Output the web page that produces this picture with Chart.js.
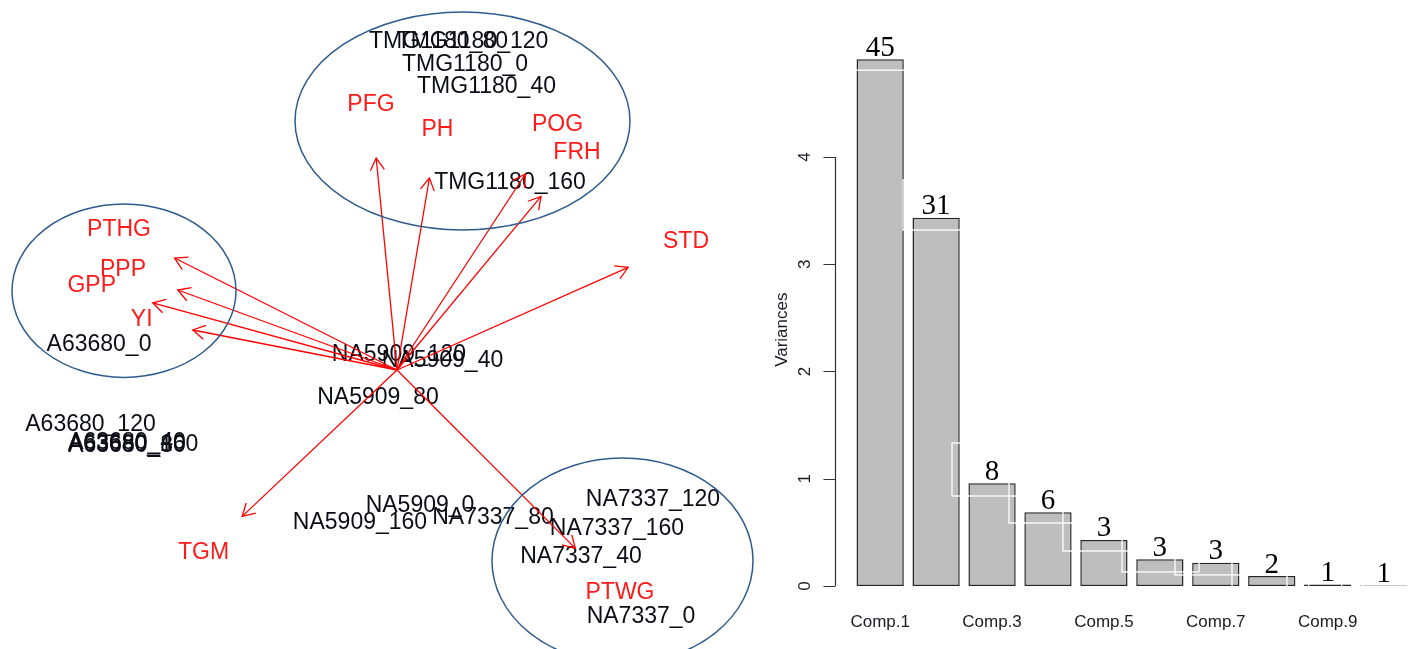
<!DOCTYPE html>
<html lang="en">
  <head>
    <meta charset="UTF-8" />
    <title>PCA biplot and scree plot</title>
    <script src="https://cdn.jsdelivr.net/npm/chart.js"></script>
    <style>
      html,
      body {
        margin: 0;
        padding: 0;
        width: 1415px;
        height: 649px;
        overflow: hidden;
        background: #ffffff;
      }
      .panel {
        position: absolute;
        top: 0;
        height: 649px;
      }
      #leftPanel {
        left: 0;
        width: 760px;
      }
      #rightPanel {
        left: 760px;
        width: 655px;
      }
    </style>
  </head>
  <body>
    <div class="panel" id="leftPanel"><canvas id="biplot"></canvas></div>
    <div class="panel" id="rightPanel"><canvas id="scree"></canvas></div>
    <script>
      // --- biplot: observation scores ---
      const scoreNames = [
        "TMG1180_80", "TMG1180_120", "TMG1180_0", "TMG1180_40", "TMG1180_160",
        "A63680_0", "A63680_120", "A63680_40", "A63680_80", "A63680_160",
        "NA5909_0", "NA5909_40", "NA5909_80", "NA5909_120", "NA5909_160",
        "NA7337_0", "NA7337_40", "NA7337_80", "NA7337_120", "NA7337_160",
      ];
      const scoreX = [
        0.415, 0.755, 0.68, 0.895, 1.13,
        -2.98, -3.065, -2.7, -2.7, -2.64,
        0.23, 0.455, -0.19, 0.02, -0.37,
        2.44, 1.84, 0.96, 2.56, 2.2,
      ];
      const scoreY = [
        3.283, 3.283, 3.05, 2.83, 1.87,
        0.25, -0.55, -0.73, -0.76, -0.75,
        -1.357, 0.093, -0.28, 0.15, -1.53,
        -2.47, -1.87, -1.48, -1.3, -1.59,
      ];

      // --- biplot: variable loadings ---
      const varNames = ["PFG", "PH", "POG", "FRH", "STD", "PTHG", "PPP", "GPP", "YI", "TGM", "PTWG"];
      const varX = [-0.26, 0.405, 1.605, 1.8, 2.89, -2.78, -2.74, -3.053, -2.553, -1.935, 2.23];
      const varY = [2.65, 2.4, 2.45, 2.17, 1.283, 1.4, 1.0, 0.84, 0.5, -1.83, -2.23];

      // group ellipses (centre and radii in biplot units)
      const groupX = [0.655, -2.73, 2.255];
      const groupY = [2.49, 0.793, -1.907];
      const groupRx = [1.675, 1.12, 1.305];
      const groupRy = [1.09, 0.867, 1.027];

      // --- scree plot ---
      const compLabels = ["Comp.1", "Comp.2", "Comp.3", "Comp.4", "Comp.5", "Comp.6", "Comp.7", "Comp.8", "Comp.9", "Comp.10"];
      const variances = [4.911, 3.434, 0.958, 0.687, 0.429, 0.249, 0.217, 0.093, 0.014, 0.004];
      const pctLabels = ["45", "31", "8", "6", "3", "3", "3", "2", "1", "1"];
      const yTicks = [0, 1, 2, 3, 4];

      // white outline boxes laid over the bars (category index / variance units)
      const overlayLeft = [-0.611, 0.408, 1.284, 2.303, 3.268, 4.323, 5.27, 6.289, 7.66, 8.631];
      const overlayRight = [0.497, 1.516, 2.499, 3.518, 4.483, 5.7, 6.504, 7.272, 8.25, 9.74];
      const overlayLow = [4.81, 3.319, 0.839, 0.587, 0.326, 0.131, 0.103, -0.05, -0.05, -0.05];
      const overlayHigh = [5.3, 3.786, 1.333, 1.05, 0.75, 0.45, 0.3, 0.25, 0.08, 0.08];

      const SANS = '"Liberation Sans", Arial, sans-serif';
      const SERIF = '"Liberation Serif", "Times New Roman", serif';

      const biplotText = {
        id: "biplotText",
        beforeDatasetsDraw(chart) {
          const ctx = chart.ctx;
          ctx.save();
          ctx.font = "23px " + SANS;
          ctx.textAlign = "center";
          ctx.textBaseline = "middle";
          ctx.fillStyle = "#0c0c16";
          chart.getDatasetMeta(0).data.forEach((p, i) => ctx.fillText(scoreNames[i], p.x, p.y));
          ctx.restore();
        },
        afterDatasetsDraw(chart) {
          const ctx = chart.ctx;
          const { x, y } = chart.scales;
          ctx.save();
          // arrow heads
          ctx.strokeStyle = "#ff0000";
          ctx.lineWidth = 1.3;
          for (let i = 0; i < varNames.length; i++) {
            const pts = chart.getDatasetMeta(i + 1).data;
            const a = Math.atan2(pts[1].y - pts[0].y, pts[1].x - pts[0].x);
            ctx.beginPath();
            ctx.moveTo(pts[1].x - 14 * Math.cos(a - Math.PI / 6), pts[1].y - 14 * Math.sin(a - Math.PI / 6));
            ctx.lineTo(pts[1].x, pts[1].y);
            ctx.lineTo(pts[1].x - 14 * Math.cos(a + Math.PI / 6), pts[1].y - 14 * Math.sin(a + Math.PI / 6));
            ctx.stroke();
          }
          // variable names
          ctx.font = "23px " + SANS;
          ctx.textAlign = "center";
          ctx.textBaseline = "middle";
          ctx.fillStyle = "#ff1a1a";
          chart.getDatasetMeta(varNames.length + 1).data.forEach((p, i) => ctx.fillText(varNames[i], p.x, p.y));
          // ellipses
          ctx.strokeStyle = "#2f5b8c";
          ctx.lineWidth = 1.5;
          for (let i = 0; i < groupX.length; i++) {
            const cx = x.getPixelForValue(groupX[i]);
            const cy = y.getPixelForValue(groupY[i]);
            const rx = Math.abs(x.getPixelForValue(groupX[i] + groupRx[i]) - cx);
            const ry = Math.abs(y.getPixelForValue(groupY[i] + groupRy[i]) - cy);
            ctx.beginPath();
            ctx.ellipse(cx, cy, rx, ry, 0, 0, Math.PI * 2);
            ctx.stroke();
          }
          ctx.restore();
        },
      };

      const screeExtras = {
        id: "screeExtras",
        afterDatasetsDraw(chart) {
          const { ctx, chartArea } = chart;
          const { x, y } = chart.scales;
          ctx.save();
          // white boxes
          ctx.strokeStyle = "#ffffff";
          ctx.lineWidth = 1.3;
          for (let i = 0; i < overlayLeft.length; i++) {
            const l = x.getPixelForValue(overlayLeft[i]);
            const r = x.getPixelForValue(overlayRight[i]);
            const t = y.getPixelForValue(overlayHigh[i]);
            const b = y.getPixelForValue(overlayLow[i]);
            ctx.strokeRect(l, t, r - l, b - t);
          }
          // percentages on top of bars
          ctx.fillStyle = "#000000";
          ctx.font = "29px " + SERIF;
          ctx.textAlign = "center";
          ctx.textBaseline = "alphabetic";
          chart.getDatasetMeta(0).data.forEach((bar, i) => ctx.fillText(pctLabels[i], bar.x, bar.y - 3.5));
          // R style y axis
          const ax = Math.round(chartArea.left - 17) + 0.5;
          ctx.strokeStyle = "#333333";
          ctx.lineWidth = 1.2;
          ctx.beginPath();
          ctx.moveTo(ax, y.getPixelForValue(yTicks[0]));
          ctx.lineTo(ax, y.getPixelForValue(yTicks[yTicks.length - 1]));
          yTicks.forEach((v) => {
            const py = Math.round(y.getPixelForValue(v)) + 0.5;
            ctx.moveTo(ax, py);
            ctx.lineTo(ax - 12, py);
          });
          ctx.stroke();
          ctx.fillStyle = "#1a1a22";
          ctx.font = "17px " + SANS;
          ctx.textBaseline = "middle";
          yTicks.forEach((v) => {
            ctx.save();
            ctx.translate(ax - 30.5, y.getPixelForValue(v));
            ctx.rotate(-Math.PI / 2);
            ctx.fillText(String(v), 0, 0);
            ctx.restore();
          });
          ctx.translate(ax - 53.5, (chartArea.top + chartArea.bottom) / 2 + 7);
          ctx.rotate(-Math.PI / 2);
          ctx.fillText("Variances", 0, 0);
          ctx.restore();
        },
      };

      document.addEventListener("DOMContentLoaded", function () {
        try {
          Chart.defaults.font.family = SANS;
          Chart.defaults.animation = false;

          new Chart(document.getElementById("biplot"), {
            type: "scatter",
            data: {
              datasets: [
                {
                  label: "scores",
                  data: scoreX.map((v, i) => ({ x: v, y: scoreY[i] })),
                  pointRadius: 0,
                },
                ...varNames.map((name, i) => ({
                  label: name,
                  // R biplot draws the arrows to 0.8 of the label position
                  data: [
                    { x: 0, y: 0 },
                    { x: 0.8 * varX[i], y: 0.8 * varY[i] },
                  ],
                  showLine: true,
                  borderColor: "#ff0000",
                  borderWidth: 1.3,
                  pointRadius: 0,
                })),
                {
                  label: "loadings",
                  data: varX.map((v, i) => ({ x: v, y: varY[i] })),
                  pointRadius: 0,
                },
              ],
            },
            options: {
              responsive: true,
              maintainAspectRatio: false,
              events: [],
              layout: { padding: 0 },
              plugins: { legend: { display: false }, tooltip: { enabled: false } },
              scales: {
                x: { type: "linear", display: false, min: -3.97, max: 3.63 },
                y: { type: "linear", display: false, min: -2.79, max: 3.7 },
              },
            },
            plugins: [biplotText],
          });

          new Chart(document.getElementById("scree"), {
            type: "bar",
            data: {
              labels: compLabels,
              datasets: [
                {
                  label: "Variances",
                  data: variances,
                  backgroundColor: "#bebebe",
                  borderColor: "#262626",
                  borderWidth: 1.5,
                  borderSkipped: false,
                  barPercentage: 0.845,
                  categoryPercentage: 1,
                },
              ],
            },
            options: {
              responsive: true,
              maintainAspectRatio: false,
              events: [],
              layout: { padding: { left: 92.2, right: 3.4, top: 38.4, bottom: 0 } },
              plugins: { legend: { display: false }, tooltip: { enabled: false } },
              scales: {
                x: {
                  grid: { display: false, drawTicks: false },
                  border: { display: false },
                  ticks: {
                    autoSkip: false,
                    maxRotation: 0,
                    padding: 5,
                    color: "#1a1a22",
                    font: { size: 17 },
                    callback: (value, index) => (index % 2 === 0 ? compLabels[index] : ""),
                  },
                  afterFit: (scale) => {
                    scale.height = 42;
                  },
                },
                y: { display: false, min: -0.196, max: 5.106 },
              },
            },
            plugins: [screeExtras],
          });
        } catch (e) {
          console.error("Chart init failed:", e);
        }
      });
    </script>
  </body>
</html>
